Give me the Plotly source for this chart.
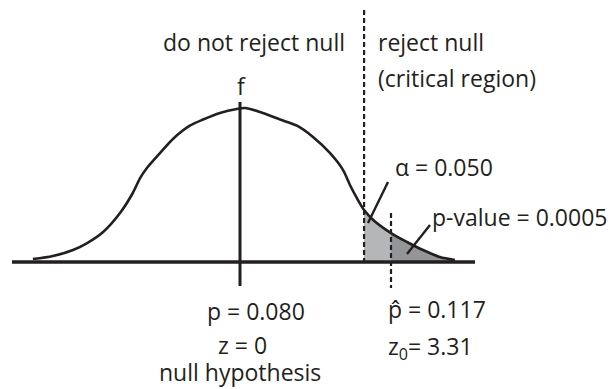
import plotly.graph_objects as go

# ---------------- data ----------------
# horizontal position in z-units (0 = null hypothesis, 3.31 = observed z0)
curve_x = [-4.54, -4.10, -3.66, -3.35, -3.00, -2.63, -2.35, -2.19, -2.04, -1.75,
           -1.47, -1.10, -0.81, -0.44, -0.07, 0.11, 0.44, 0.88, 1.25, 1.60,
           1.97, 2.26, 2.41, 2.56, 2.72, 2.92, 3.31, 3.66, 4.01, 4.38, 4.71]
# relative density f (peak = 1)
curve_f = [0.019, 0.039, 0.078, 0.123, 0.195, 0.318, 0.448, 0.545, 0.610, 0.708,
           0.799, 0.885, 0.925, 0.968, 0.994, 1.000, 0.974, 0.925, 0.885, 0.812,
           0.708, 0.597, 0.500, 0.416, 0.338, 0.273, 0.188, 0.130, 0.078, 0.032, 0.013]

z_null = 0.0
z_crit = 2.72      # start of critical region (as drawn)
z_obs = 3.31       # observed z0

labels_left = ["do not reject null"]
labels_right = ["reject null", "(critical region)"]
alpha_label = "α = 0.050"
pvalue_label = "p-value = 0.0005"
null_labels = ["p = 0.080", "z = 0", "null hypothesis"]
obs_labels = ["p\u0302 = 0.117", "z<sub>0</sub>= 3.31"]

# ---------------- geometry helpers ----------------
W, H = 610, 389
PX_PER_X = 45.62     # pixels per z-unit
X0_PX = 240          # pixel of z = 0
PX_PER_Y = 154       # pixels per unit of f
Y0_PX = 262          # pixel row of baseline

def px2x(px):
    return (px - X0_PX) / PX_PER_X

def py2y(py):
    return (Y0_PX - py) / PX_PER_Y

INK = "#231f20"
FONT = dict(family="Open Sans", size=23, color=INK)

fig = go.Figure()

# shaded critical region (light) between z_crit and z_obs
light_x = [x for x in curve_x if z_crit <= x <= z_obs]
light_f = [f for x, f in zip(curve_x, curve_f) if z_crit <= x <= z_obs]
fig.add_trace(go.Scatter(
    x=[light_x[0]] + light_x + [light_x[-1]],
    y=[0] + light_f + [0],
    fill="toself", fillcolor="#b5b6b8", mode="lines",
    line=dict(width=0), hoverinfo="skip", showlegend=False))

# shaded p-value region (dark) beyond z_obs
dark_x = [x for x in curve_x if x >= z_obs]
dark_f = [f for x, f in zip(curve_x, curve_f) if x >= z_obs]
fig.add_trace(go.Scatter(
    x=[dark_x[0]] + dark_x + [dark_x[-1]],
    y=[0] + dark_f + [0],
    fill="toself", fillcolor="#939598", mode="lines",
    line=dict(width=0), hoverinfo="skip", showlegend=False))

# density curve
fig.add_trace(go.Scatter(
    x=curve_x, y=curve_f, mode="lines",
    line=dict(color=INK, width=2.6, shape="spline", smoothing=0.8),
    hoverinfo="skip", showlegend=False))

shapes = []
# baseline
shapes.append(dict(type="line", x0=px2x(12), x1=px2x(475), y0=0, y1=0,
                   line=dict(color=INK, width=3.4)))
# null hypothesis vertical line
shapes.append(dict(type="line", x0=z_null, x1=z_null, y0=py2y(102), y1=py2y(286),
                   line=dict(color=INK, width=3)))
# critical value dashed line
shapes.append(dict(type="line", x0=z_crit, x1=z_crit, y0=py2y(10), y1=0,
                   line=dict(color=INK, width=2.2, dash="5px,3px")))
# observed value dashed line
shapes.append(dict(type="line", x0=z_obs, x1=z_obs, y0=py2y(213), y1=py2y(288),
                   line=dict(color=INK, width=2.2, dash="5px,3px")))
# leader lines
shapes.append(dict(type="line", x0=px2x(388), y0=py2y(182), x1=px2x(368), y1=py2y(223),
                   line=dict(color=INK, width=2.4)))
shapes.append(dict(type="line", x0=px2x(430), y0=py2y(225), x1=px2x(407), y1=py2y(254),
                   line=dict(color=INK, width=2.4)))

ann = []
def text(s, px, py, xanchor="center"):
    ann.append(dict(text=s, x=px2x(px), y=py2y(py), xref="x", yref="y",
                    xanchor=xanchor, yanchor="middle", showarrow=False, font=FONT))

text(labels_left[0], 254, 42)
text("f", 241, 86)
text(labels_right[0], 376, 42, "left")
text(labels_right[1], 376, 78, "left")
text(alpha_label, 393, 167, "left")
text(pvalue_label, 609, 217, "right")
text(null_labels[0], 256, 311)
text(null_labels[1], 242, 345)
text(null_labels[2], 240, 372)
text(obs_labels[0], 386, 309, "left")
text(obs_labels[1], 386, 347, "left")

fig.update_layout(
    width=W, height=H, margin=dict(l=0, r=0, t=0, b=0),
    paper_bgcolor="white", plot_bgcolor="white",
    xaxis=dict(range=[px2x(0), px2x(W)], visible=False, fixedrange=True),
    yaxis=dict(range=[py2y(H), py2y(0)], visible=False, fixedrange=True),
    shapes=shapes, annotations=ann, showlegend=False,
)

fig.write_html("out.html", config={"displayModeBar": False},
               post_script="document.body.style.margin='0';document.body.style.overflow='hidden';")
